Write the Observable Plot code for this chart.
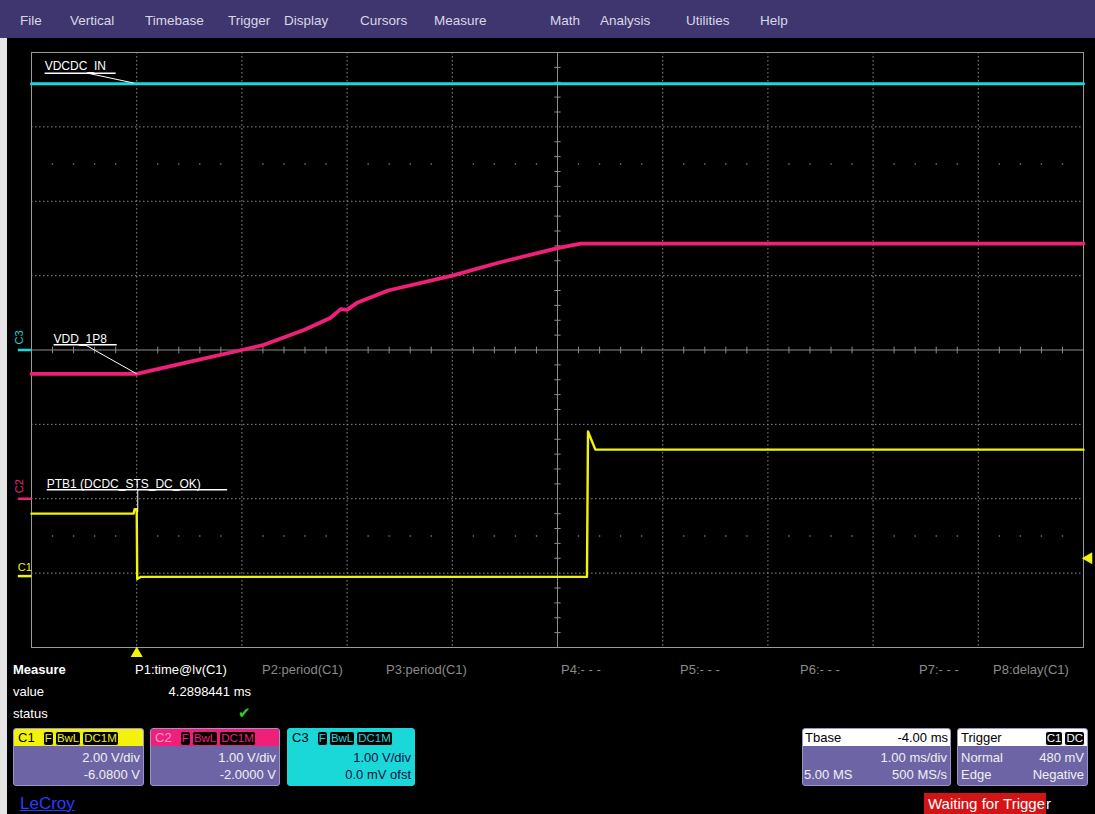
<!DOCTYPE html>
<html><head><meta charset="utf-8">
<script src="https://cdn.jsdelivr.net/npm/d3@7"></script>
<script src="https://cdn.jsdelivr.net/npm/@observablehq/plot@0.6"></script>
<style>
body{margin:0;background:#000;width:1095px;height:814px;overflow:hidden;position:relative;font-family:"Liberation Sans",Arial,sans-serif;}
#menu{position:absolute;left:0;top:0;width:1095px;height:38px;background:#3f356f;}
#menu span{position:absolute;top:13px;color:#d8d8e6;font-size:13.5px;}
#strip{position:absolute;left:0;top:38px;width:7px;height:776px;background:#e4e4e4;z-index:5;}
#chart{position:absolute;left:0;top:38px;}
.t{position:absolute;font-size:13px;color:#fff;white-space:nowrap;line-height:16px;}
.g{color:#8a8a8a;}
.box{position:absolute;top:728px;height:58px;background:#6d64a6;border:1px solid #9a94c8;border-radius:3px;box-sizing:border-box;overflow:hidden;}
.hdr{position:absolute;left:0;right:0;top:0;height:17px;font-size:13px;line-height:17px;padding-left:4px;}
.row{position:absolute;left:3px;right:3px;font-size:13px;line-height:16px;color:#f0f0f0;}
.row .l{position:absolute;left:0;} .row .r{position:absolute;right:0;}
.bd{display:inline-block;background:#000;border:1px solid;border-radius:3px;font-size:11.5px;line-height:13px;padding:0 1px;margin-left:1px;}
</style></head><body>
<div id="menu"></div>
<div id="strip"></div>
<div id="chart"></div>
<div id="bottom"></div>
<script>
// ---- channel settings ----
const channels = ["C1", "C2", "C3"];
const voltsPerDiv = [2.0, 1.0, 1.0];
const offsets = [-6.08, -2.0, 0.0];
const colors = ["#f2f20a", "#f0207a", "#1ad8d8"];

// ---- traces (time in ms relative to trigger, volts) ----
const timeC3 = [-1, 9];
const voltC3 = [3.58, 3.58];

const timeC2 = [-1, -0.5, 0, 0.5, 1.0, 1.21, 1.59, 1.84, 1.94, 2.0, 2.1, 2.39, 3.0, 3.43, 4.0, 4.22, 9];
const voltC2 = [1.68, 1.68, 1.68, 1.84, 2.0, 2.07, 2.27, 2.43, 2.55, 2.54, 2.64, 2.8, 3.0, 3.17, 3.37, 3.43, 3.43];

const timeC1 = [-1, -0.03, -0.02, 0, 0.005, 0.04, 4.28, 4.29, 4.36, 9];
const voltC1 = [1.68, 1.68, 1.8, 1.8, -0.08, -0.02, -0.02, 3.89, 3.40, 3.40];

// ---- trace labels ----
const labelNames = ["VDCDC_IN", "VDD_1P8", "PTB1 (DCDC_STS_DC_OK)"];
const menuItems = ["File", "Vertical", "Timebase", "Trigger", "Display", "Cursors", "Measure", "Math", "Analysis", "Utilities", "Help"];
const measureParams = ["P1:time@lv(C1)", "P2:period(C1)", "P3:period(C1)", "P4:- - -", "P5:- - -", "P6:- - -", "P7:- - -", "P8:delay(C1)"];
const measureValue = "4.2898441 ms";
const timebase = {delay: "-4.00 ms", perDiv: "1.00 ms/div", samples: "5.00 MS", rate: "500 MS/s"};
const trigger = {mode: "Normal", level: "480 mV", type: "Edge", slope: "Negative", levelVolts: 0.48};

// ---- helpers ----
const pos = (ci, v) => (v + offsets[ci]) / voltsPerDiv[ci];
const toRows = (ci, ts, vs) => ts.map((t, i) => ({t, d: pos(ci, vs[i])}));
const c1 = toRows(0, timeC1, voltC1);
const c2 = toRows(1, timeC2, voltC2);
const c3 = toRows(2, timeC3, voltC3);

// menu
const menuX = [20, 70, 145, 228, 284, 360, 434, 550, 600, 686, 760];
const menu = document.getElementById("menu");
menuItems.forEach((m, i) => { const s = document.createElement("span"); s.textContent = m; s.style.left = menuX[i] + "px"; menu.appendChild(s); });

// grid helpers
const gridX = d3.range(0, 9).filter(v => v !== 4);
const gridY = d3.range(-3, 4).filter(v => v !== 0);
const tickYs = d3.range(-40, 41, 2).map(v => v / 10).filter(v => Math.abs(v % 1) > 1e-6);
const tickXs = d3.range(-10, 91, 2).map(v => v / 10).filter(v => Math.abs(v % 1) > 1e-6);
const dotRows = [];
for (const y of [2.5, -2.5]) for (const x of tickXs) dotRows.push({x, y});

// annotation geometry in data units (ms, div)
const ann = [
  {name: labelNames[0], x: -0.875, y: 3.76, ux2: -0.2, uy: 3.72, lx1: -0.46, ly1: 3.72, lx2: -0.03, ly2: 3.59},
  {name: labelNames[1], x: -0.79, y: 0.10, ux2: -0.19, uy: 0.07, lx1: -0.49, ly1: 0.07, lx2: 0.0, ly2: pos(1, 1.68)},
  {name: labelNames[2], x: -0.855, y: -1.85, ux2: 0.86, uy: -1.88, lx1: 0.01, ly1: -1.88, lx2: 0.01, ly2: -2.18}
];

const chart = Plot.plot({
  width: 1095,
  height: 624,
  marginTop: 14, marginBottom: 15, marginLeft: 31, marginRight: 12,
  x: {domain: [-1, 9], axis: null},
  y: {domain: [-4, 4], axis: null},
  style: {background: "#000", fontFamily: "Liberation Sans, Arial, sans-serif", overflow: "visible"},
  marks: [
    Plot.ruleX(gridX, {stroke: "#8c8c8c", strokeDasharray: "1.5,2.5", strokeWidth: 1}),
    Plot.ruleY(gridY, {stroke: "#8c8c8c", strokeDasharray: "1.5,2.5", strokeWidth: 1}),
    Plot.dot(dotRows, {x: "x", y: "y", r: 0.8, fill: "#8c8c8c", stroke: null}),
    Plot.ruleX([4], {stroke: "#8c8c8c"}),
    Plot.ruleY([0], {stroke: "#8c8c8c"}),
    Plot.link(tickYs, {x1: 4 - 0.03, x2: 4 + 0.03, y1: d => d, y2: d => d, stroke: "#8c8c8c"}),
    Plot.link(tickXs, {x1: d => d, x2: d => d, y1: -0.045, y2: 0.045, stroke: "#8c8c8c"}),
    Plot.frame({stroke: "#9a9a9a"}),
    // traces
    Plot.line(c3, {x: "t", y: "d", stroke: colors[2], strokeWidth: 3.2}),
    Plot.line(c2, {x: "t", y: "d", stroke: colors[1], strokeWidth: 3.8}),
    Plot.line(c1, {x: "t", y: "d", stroke: colors[0], strokeWidth: 2.4}),
    // labels
    Plot.text(ann, {x: "x", y: "y", text: "name", fill: "#fff", fontSize: 12, textAnchor: "start", lineAnchor: "bottom"}),
    Plot.link(ann, {x1: "x", x2: "ux2", y1: "uy", y2: "uy", stroke: "#fff", strokeWidth: 1.5}),
    Plot.link(ann, {x1: "lx1", x2: "lx2", y1: "ly1", y2: "ly2", stroke: "#fff", strokeWidth: 1}),
    // channel ground markers
    Plot.link([0, 1, 2], {x1: -1.13, x2: -1.0, y1: i => offsets[i] / voltsPerDiv[i], y2: i => offsets[i] / voltsPerDiv[i], stroke: i => colors[i], strokeWidth: 2.5}),
    Plot.text([2, 1], {x: -1.11, y: i => offsets[i] / voltsPerDiv[i] + 0.17, text: i => channels[i], fill: i => colors[i], rotate: -90, fontSize: 11}),
    Plot.text([0], {x: -1.13, y: i => offsets[i] / voltsPerDiv[i] + 0.07, text: i => channels[i], fill: i => colors[i], fontSize: 11, textAnchor: "start", lineAnchor: "bottom"}),
    // trigger level & position markers
    Plot.dot([trigger.levelVolts], {x: 9.05, y: v => pos(0, v), symbol: "triangle", r: 4.5, fill: colors[0], stroke: null, rotate: -90}),
    Plot.dot([0], {x: 0, y: -4.08, symbol: "triangle", r: 4.5, fill: colors[0], stroke: null})
  ]
});
document.getElementById("chart").appendChild(chart);

// ---- bottom panel ----
const B = document.getElementById("bottom");
function add(html, css, cls = "t") { const d = document.createElement("div"); d.className = cls; d.innerHTML = html; Object.assign(d.style, css); B.appendChild(d); return d; }
add("<b>Measure</b>", {left: "13px", top: "662px"});
add("value", {left: "13px", top: "684px"});
add("status", {left: "13px", top: "706px"});
const pX = [135, 262, 386, 561, 680, 800, 919, 993];
measureParams.forEach((p, i) => add(p, {left: pX[i] + "px", top: "662px"}, i === 0 ? "t" : "t g"));
add(measureValue, {right: (1095 - 251) + "px", top: "684px"});
add("&#10004;", {left: "238px", top: "705px", color: "#2ad52a", fontSize: "15px"});

function badges(col, items) { return items.map(s => `<span class="bd" style="color:${col};border-color:${col}">${s}</span>`).join(""); }
const boxX = [[13, 131], [150, 130], [287, 128]];
const lines = [["2.00 V/div", "-6.0800 V"], ["1.00 V/div", "-2.0000 V"], ["1.00 V/div", "0.0 mV ofst"]];
channels.forEach((c, i) => {
  const b = add("", {left: boxX[i][0] + "px", width: boxX[i][1] + "px"}, "box");
  if (i === 2) { b.style.background = colors[2]; b.style.borderColor = colors[2]; }
  const hdrTxtCol = i === 0 ? "#000" : (i === 1 ? "#ff9ccc" : "#000");
  b.innerHTML = `<div class="hdr" style="background:${colors[i]};color:${hdrTxtCol}">${c}&nbsp;&nbsp;${badges(colors[i], ["F", "BwL", "DC1M"])}</div>`
    + `<div class="row" style="top:21px;${i === 2 ? "color:#101040" : ""}"><span class="r">${lines[i][0]}</span></div>`
    + `<div class="row" style="top:38px;${i === 2 ? "color:#101040" : ""}"><span class="r">${lines[i][1]}</span></div>`;
});
const tb = add("", {left: "802px", width: "149px"}, "box");
tb.innerHTML = `<div class="hdr" style="background:#fff;color:#000;padding-left:2px">Tbase<span style="position:absolute;right:2px">${timebase.delay}</span></div>`
  + `<div class="row" style="top:21px"><span class="r">${timebase.perDiv}</span></div>`
  + `<div class="row" style="top:38px;left:1px"><span class="l">${timebase.samples}</span><span class="r">${timebase.rate}</span></div>`;
const tr = add("", {left: "957px", width: "131px"}, "box");
tr.innerHTML = `<div class="hdr" style="background:#fff;color:#000;padding-left:3px">Trigger<span style="position:absolute;right:2px">${badges("#fff", ["C1", "DC"])}</span></div>`
  + `<div class="row" style="top:21px"><span class="l">${trigger.mode}</span><span class="r">${trigger.level}</span></div>`
  + `<div class="row" style="top:38px"><span class="l">${trigger.type}</span><span class="r">${trigger.slope}</span></div>`;
add(`<span style="background:#d41414;padding:2px 1px 2px 4px">Waiting for Trigge</span>r`, {left: "924px", top: "796px", fontSize: "15px", lineHeight: "16px"});
add("LeCroy", {left: "20px", top: "794px", color: "#2a3cff", fontSize: "17px", textDecoration: "underline", lineHeight: "20px"});
</script>
</body></html>
